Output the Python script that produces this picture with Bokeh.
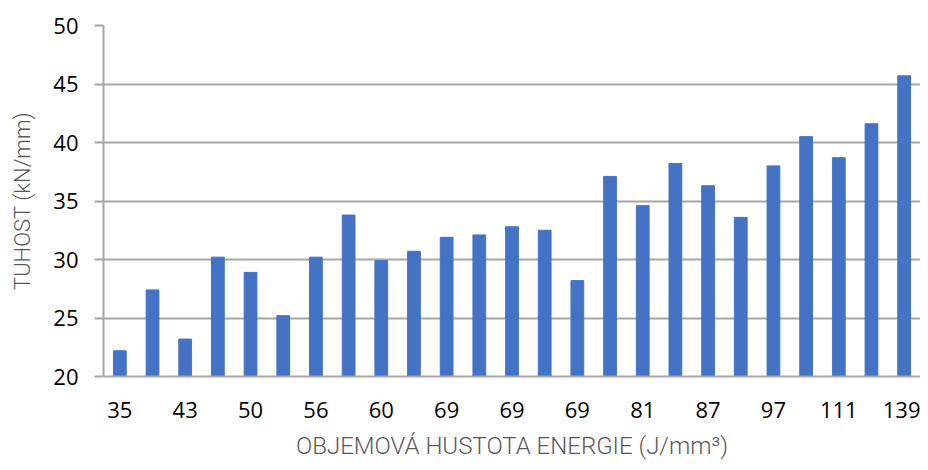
from bokeh.plotting import figure
from bokeh.models import FixedTicker, ColumnDataSource, Range1d
from bokeh.embed import file_html
from bokeh.resources import INLINE

# energy density categories (J/mm^3); only every other is labelled in the reference
energy = ["35", "39", "43", "46", "50", "52", "56", "58", "60", "65", "69", "69", "69",
          "69", "69", "75", "81", "83", "87", "90", "97", "104", "111", "125", "139"]
stiffness = [22.2, 27.4, 23.2, 30.2, 28.9, 25.2, 30.2, 33.8, 29.9, 30.7, 31.9, 32.1, 32.8,
             32.5, 28.2, 37.1, 34.6, 38.2, 36.3, 33.6, 38.0, 40.5, 38.7, 41.6, 45.7]
y_ticks = [20, 25, 30, 35, 40, 45, 50]

idx = list(range(len(energy)))
src = ColumnDataSource(dict(x=idx, top=stiffness))

p = figure(width=920, height=462, output_backend="svg", toolbar_location=None,
           x_range=Range1d(-0.5, len(energy) - 0.5), y_range=Range1d(20, 50),
           min_border_left=103, min_border_right=0, min_border_top=25, min_border_bottom=84)
p.outline_line_color = None

p.vbar(x="x", top="top", bottom=20, width=0.39, source=src, color="#4472C4")

shown = idx[::2]
p.xaxis.ticker = FixedTicker(ticks=shown)
p.xaxis.major_label_overrides = {i: energy[i] for i in shown}
p.xaxis.major_tick_line_color = None
p.xaxis.minor_tick_line_color = None
p.xaxis.axis_line_color = "#a6a6a6"
p.xaxis.axis_line_width = 2
p.xaxis.major_label_text_font = "Open Sans"
p.xaxis.major_label_text_font_size = "22px"
p.xaxis.major_label_text_color = "#000000"
p.xaxis.major_label_standoff = 19
p.xaxis.axis_label = "OBJEMOVÁ HUSTOTA ENERGIE (J/mm³)"
p.xaxis.axis_label_text_font = "Roboto Light"
p.xaxis.axis_label_text_font_style = "normal"
p.xaxis.axis_label_text_font_size = "24px"
p.xaxis.axis_label_text_color = "#595959"
p.xaxis.axis_label_standoff = 11

p.yaxis.ticker = FixedTicker(ticks=y_ticks)
p.yaxis.axis_line_color = "#a6a6a6"
p.yaxis.axis_line_width = 2
p.yaxis.major_tick_line_color = "#a6a6a6"
p.yaxis.major_tick_line_width = 2
p.yaxis.major_tick_out = 9
p.yaxis.major_tick_in = 0
p.yaxis.minor_tick_line_color = None
p.yaxis.major_label_text_font = "Open Sans"
p.yaxis.major_label_text_font_size = "22px"
p.yaxis.major_label_text_color = "#000000"
p.yaxis.major_label_standoff = 16
p.yaxis.axis_label = "TUHOST (kN/mm)"
p.yaxis.axis_label_text_font = "Roboto Light"
p.yaxis.axis_label_text_font_style = "normal"
p.yaxis.axis_label_text_font_size = "22px"
p.yaxis.axis_label_text_color = "#595959"
p.yaxis.axis_label_standoff = 15

p.xgrid.grid_line_color = None
p.ygrid.grid_line_color = "#a6a6a6"
p.ygrid.grid_line_width = 2

open("out.html", "w").write(file_html(p, INLINE))
